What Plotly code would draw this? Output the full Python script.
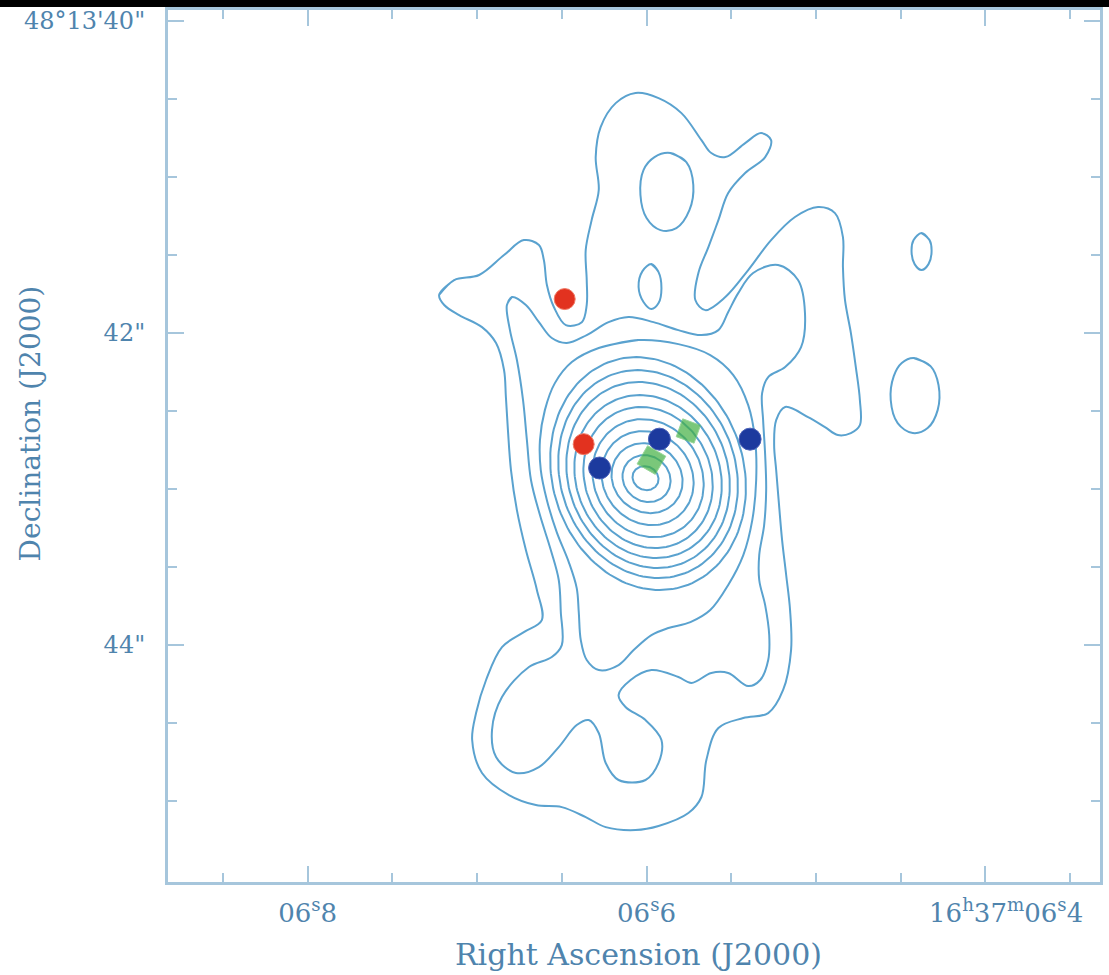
import numpy as np
import plotly.graph_objects as go

# ---------------- axis ticks (RA seconds of 16h37m, Dec arcsec of +48d13') ----------------
ra_major = [6.8, 6.6, 6.4]
ra_major_text = ["06<sup>s</sup>8", "06<sup>s</sup>6", "16<sup>h</sup>37<sup>m</sup>06<sup>s</sup>4"]
ra_minor = [6.85, 6.75, 6.70, 6.65, 6.55, 6.50, 6.45, 6.35]
dec_major = [40, 42, 44]
dec_major_text = ["48°13'40\"", "42\"", "44\""]
dec_minor = [40.5, 41, 41.5, 42.5, 43, 43.5, 44.5, 45]
ra_range = [6.8824, 6.3324]
dec_range = [45.519, 39.929]

# ---------------- contour lines (RA s, Dec arcsec) ----------------
outer_ra = [6.7224, 6.7135, 6.6988, 6.6841, 6.6724, 6.6635, 6.6606, 6.6588, 6.6547, 6.6476,
            6.6382, 6.6353, 6.6353, 6.6359, 6.6324, 6.6282, 6.6300, 6.6271, 6.6182, 6.6065,
            6.5929, 6.5794, 6.5676, 6.5618, 6.5535, 6.5418, 6.5324, 6.5265, 6.5300, 6.5418,
            6.5518, 6.5576, 6.5635, 6.5694, 6.5712, 6.5653, 6.5535, 6.5400, 6.5265, 6.5124,
            6.4988, 6.4888, 6.4841, 6.4841, 6.4829, 6.4794, 6.4765, 6.4741, 6.4741, 6.4794,
            6.4871, 6.4947, 6.5047, 6.5182, 6.5235, 6.5247, 6.5235, 6.5218, 6.5200, 6.5176,
            6.5153, 6.5147, 6.5194, 6.5282, 6.5429, 6.5576, 6.5647, 6.5676, 6.5753, 6.5929,
            6.6065, 6.6241, 6.6359, 6.6500, 6.6653, 6.6812, 6.6971, 6.7029, 6.7006, 6.6947,
            6.6853, 6.6724, 6.6618, 6.6647, 6.6712, 6.6765, 6.6800, 6.6818, 6.6830, 6.6841,
            6.6888, 6.6971, 6.7106, 6.7194]
outer_dec = [41.756, 41.660, 41.628, 41.500, 41.404, 41.436, 41.532, 41.692, 41.833, 41.949,
             41.930, 41.820, 41.660, 41.468, 41.276, 41.083, 40.872, 40.680, 40.526, 40.461,
             40.494, 40.590, 40.763, 40.846, 40.872, 40.782, 40.718, 40.763, 40.872, 40.974,
             41.102, 41.276, 41.449, 41.615, 41.788, 41.853, 41.769, 41.596, 41.404, 41.256,
             41.192, 41.231, 41.385, 41.577, 41.788, 42.000, 42.218, 42.429, 42.590, 42.641,
             42.654, 42.603, 42.539, 42.474, 42.558, 42.718, 42.878, 43.103, 43.327, 43.551,
             43.776, 44.032, 44.288, 44.436, 44.468, 44.532, 44.737, 44.974, 45.077, 45.160,
             45.186, 45.167, 45.103, 45.039, 45.026, 44.962, 44.820, 44.609, 44.436, 44.224,
             44.013, 43.917, 43.840, 43.647, 43.391, 43.135, 42.878, 42.622, 42.410, 42.237,
             42.064, 41.962, 41.885, 41.820]

second_ra = [6.6824, 6.6794, 6.6712, 6.6635, 6.6559, 6.6471, 6.6353, 6.6224, 6.6106, 6.5959,
             6.5812, 6.5676, 6.5576, 6.5518, 6.5459, 6.5371, 6.5224, 6.5106, 6.5065, 6.5088,
             6.5182, 6.5282, 6.5318, 6.5312, 6.5300, 6.5294, 6.5306, 6.5335, 6.5335, 6.5300,
             6.5276, 6.5282, 6.5329, 6.5400, 6.5518, 6.5618, 6.5735, 6.5812, 6.5971, 6.6094,
             6.6165, 6.6124, 6.6006, 6.5912, 6.5929, 6.6006, 6.6165, 6.6241, 6.6282, 6.6341,
             6.6412, 6.6518, 6.6635, 6.6771, 6.6888, 6.6912, 6.6853, 6.6694, 6.6559, 6.6500,
             6.6506, 6.6518, 6.6565, 6.6629, 6.6682, 6.6706, 6.6729, 6.6765, 6.6806]
second_dec = [41.820, 41.769, 41.820, 41.930, 42.032, 42.064, 42.013, 41.930, 41.897, 41.930,
              41.981, 42.013, 41.981, 41.865, 41.744, 41.615, 41.564, 41.660, 41.872, 42.090,
              42.218, 42.282, 42.385, 42.558, 42.782, 43.006, 43.231, 43.423, 43.583, 43.744,
              43.936, 44.096, 44.224, 44.263, 44.179, 44.179, 44.243, 44.205, 44.160, 44.224,
              44.321, 44.397, 44.481, 44.609, 44.756, 44.865, 44.865, 44.756, 44.564, 44.481,
              44.513, 44.654, 44.782, 44.820, 44.718, 44.545, 44.333, 44.141, 44.077, 44.000,
              43.788, 43.583, 43.391, 43.167, 42.942, 42.686, 42.429, 42.173, 41.981]

third_ra = [6.6282, 6.6047, 6.5812, 6.5624, 6.5488, 6.5400, 6.5359, 6.5353, 6.5376, 6.5429,
            6.5518, 6.5624, 6.5741, 6.5871, 6.5971, 6.6076, 6.6165, 6.6282, 6.6353, 6.6388,
            6.6400, 6.6412, 6.6459, 6.6530, 6.6588, 6.6624, 6.6629, 6.6600, 6.6541, 6.6441]
third_dec = [42.096, 42.045, 42.071, 42.141, 42.269, 42.462, 42.686, 42.942, 43.199, 43.423,
             43.615, 43.776, 43.853, 43.891, 43.936, 44.032, 44.128, 44.160, 44.096, 43.968,
             43.788, 43.635, 43.468, 43.276, 43.071, 42.878, 42.686, 42.494, 42.321, 42.186]

hole_ra = [6.5859, 6.5765, 6.5724, 6.5747, 6.5824, 6.5918, 6.6000, 6.6036, 6.6018, 6.5953]
hole_dec = [40.846, 40.904, 41.051, 41.212, 41.327, 41.340, 41.263, 41.115, 40.955, 40.872]

knot_ra = [6.5971, 6.5929, 6.5912, 6.5929, 6.5971, 6.6018, 6.6047, 6.6024]
knot_dec = [41.558, 41.609, 41.712, 41.808, 41.846, 41.801, 41.705, 41.603]

east_small_ra = [6.4377, 6.4330, 6.4318, 6.4336, 6.4377, 6.4418, 6.4436, 6.4424]
east_small_dec = [41.359, 41.404, 41.481, 41.558, 41.596, 41.558, 41.481, 41.404]

east_knot_ra = [6.4424, 6.4324, 6.4277, 6.4282, 6.4341, 6.4429, 6.4518, 6.4559, 6.4541, 6.4494]
east_knot_dec = [42.160, 42.212, 42.333, 42.494, 42.609, 42.641, 42.577, 42.429, 42.276, 42.192]

# core: nested contours (centre RA, centre Dec, half extent in RA, half extent in Dec)
core_ra = [6.6006, 6.6000, 6.5997, 6.5994, 6.5991, 6.5991, 6.5991, 6.5991, 6.5991, 6.5991]
core_dec = [42.930, 42.933, 42.930, 42.930, 42.930, 42.926, 42.920, 42.910, 42.904, 42.901]
core_half_ra = [0.00765, 0.01412, 0.02088, 0.02706, 0.03265, 0.03794, 0.04324, 0.04794,
                0.05265, 0.05735]
core_half_dec = [0.0769, 0.1506, 0.2244, 0.3013, 0.3782, 0.4519, 0.5224, 0.5962, 0.6667, 0.7468]
core_tilt = -0.0092   # RA shift (s) per arcsec of Dec offset from the core centre

# ---------------- source positions ----------------
red_ra = [6.6483, 6.6371]
red_dec = [41.782, 42.712]
blue_ra = [6.5924, 6.6277, 6.5389]
blue_dec = [42.680, 42.865, 42.680]
green_ra = [6.5971, 6.5753]
green_dec = [42.814, 42.628]

# ---------------- styling ----------------
CONTOUR = "#5aa2cf"
AXIS = "#a6c6dc"
TEXT = "#4f84ad"
FONT = "DejaVu Serif"

fig = go.Figure()


def add_loop(xs, ys):
    xs = list(xs) + list(xs[:2])
    ys = list(ys) + list(ys[:2])
    fig.add_trace(go.Scatter(x=xs, y=ys, mode="lines",
                             line=dict(color=CONTOUR, width=2, shape="spline", smoothing=1.0),
                             hoverinfo="skip", showlegend=False))


for xs, ys in [(outer_ra, outer_dec), (second_ra, second_dec), (third_ra, third_dec),
               (hole_ra, hole_dec), (knot_ra, knot_dec), (east_small_ra, east_small_dec),
               (east_knot_ra, east_knot_dec)]:
    add_loop(xs, ys)

t = np.linspace(0, 2 * np.pi, 145)
for cx, cy, a, b in zip(core_ra, core_dec, core_half_ra, core_half_dec):
    yy = cy + b * np.sin(t)
    xx = cx + a * np.cos(t) + core_tilt * (yy - cy)
    fig.add_trace(go.Scatter(x=xx, y=yy, mode="lines",
                             line=dict(color=CONTOUR, width=2),
                             hoverinfo="skip", showlegend=False))

fig.add_trace(go.Scatter(x=red_ra, y=red_dec, mode="markers",
                         marker=dict(symbol="circle", size=21, color="#e2321f",
                                     line=dict(color="#f07a66", width=1)),
                         showlegend=False))
fig.add_trace(go.Scatter(x=blue_ra, y=blue_dec, mode="markers",
                         marker=dict(symbol="circle", size=22, color="#1c3a9e",
                                     line=dict(color="#4a62b8", width=1)),
                         showlegend=False))
fig.add_trace(go.Scatter(x=green_ra, y=green_dec, mode="markers",
                         marker=dict(symbol="square", size=[21, 19], angle=[30, 20],
                                     color="#43b043", line=dict(color="#6cc46c", width=1)),
                         showlegend=False))

last_pad = "\u00a0" * 5
fig.update_xaxes(range=ra_range, tickmode="array", tickvals=ra_major,
                 ticktext=ra_major_text[:-1] + [last_pad + ra_major_text[-1]],
                 ticks="inside", ticklen=16, tickwidth=2, tickcolor=AXIS,
                 minor=dict(tickvals=ra_minor, ticks="inside", ticklen=9, tickwidth=2, tickcolor=AXIS),
                 showline=True, linecolor=AXIS, linewidth=3, mirror="ticks",
                 showgrid=False, zeroline=False,
                 tickfont=dict(family=FONT, size=26, color=TEXT), ticklabelstandoff=6)
fig.update_yaxes(range=dec_range, tickmode="array", tickvals=dec_major, ticktext=dec_major_text,
                 ticks="inside", ticklen=16, tickwidth=2, tickcolor=AXIS,
                 minor=dict(tickvals=dec_minor, ticks="inside", ticklen=9, tickwidth=2, tickcolor=AXIS),
                 showline=True, linecolor=AXIS, linewidth=3, mirror="ticks",
                 showgrid=False, zeroline=False,
                 tickfont=dict(family=FONT, size=24, color=TEXT), ticklabelstandoff=15)

fig.add_annotation(text="Right Ascension (J2000)", xref="paper", yref="paper",
                   x=0.505, y=-0.0837, xanchor="center", yanchor="middle", showarrow=False,
                   font=dict(family=FONT, size=30, color=TEXT))
fig.add_annotation(text="Declination (J2000)", xref="paper", yref="paper",
                   x=-0.148, y=0.526, xanchor="center", yanchor="middle", textangle=-90,
                   showarrow=False, font=dict(family=FONT, size=28, color=TEXT))

# black strip along the top edge of the page
fig.add_shape(type="rect", xref="paper", yref="paper", x0=-0.2, x1=1.02,
              y0=1.0034, y1=1.02, fillcolor="black", line=dict(width=0), layer="above")

fig.update_layout(width=1109, height=975, autosize=False,
                  margin=dict(l=168, r=6, t=10, b=93),
                  plot_bgcolor="white", paper_bgcolor="white")

fig.write_html("out.html", config={"displayModeBar": False},
               post_script="document.body.style.margin='0px';document.body.style.overflow='hidden';")
